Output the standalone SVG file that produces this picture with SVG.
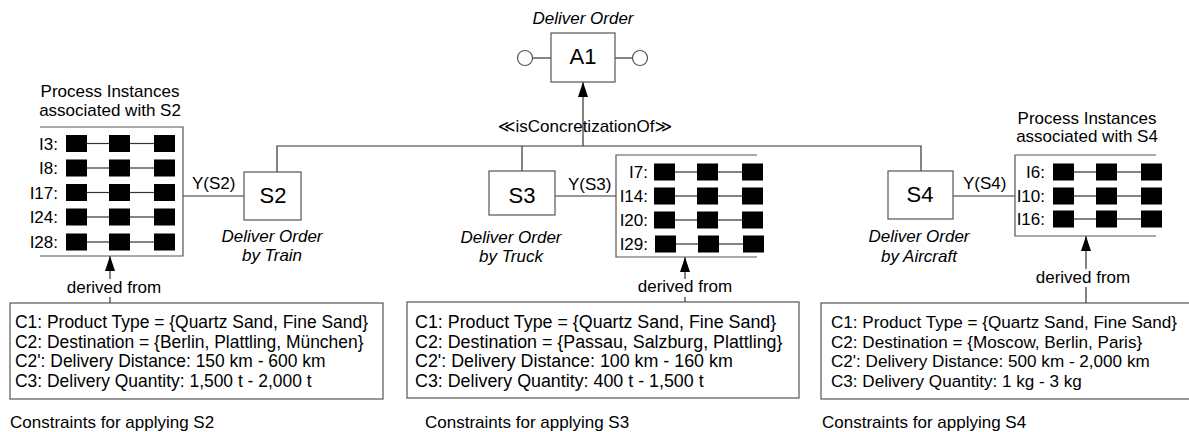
<svg xmlns="http://www.w3.org/2000/svg" xmlns:xlink="http://www.w3.org/1999/xlink" width="1189" height="432" viewBox="0 0 1189 432">
  <style>
    text { font-family: "Liberation Sans", Arial, "DejaVu Sans", sans-serif; font-size: 17px; fill: #000; }
    .node { fill: #fff; stroke: #555; stroke-width: 1.2; }
    .label { font-size: 22px; text-anchor: middle; }
    .title { text-anchor: middle; }
    .ital { font-style: italic; text-anchor: middle; }
    .frame { fill: none; stroke: #555; stroke-width: 1.2; }
    .conn { fill: none; stroke: #333; stroke-width: 1.2; }
    .step { fill: #000; }
    .link { stroke: #333; stroke-width: 1.2; }
    .iname { text-anchor: end; }
    .mask { fill: #fff; }
    #constraints-s2 .cond { font-size: 17.45px; }
    #constraints-s3 .cond { font-size: 17.85px; }
    #constraints-s4 .cond { font-size: 17.1px; }
  </style>
  <defs>
    <marker id="arrow" markerUnits="userSpaceOnUse" markerWidth="15" markerHeight="10" refX="15" refY="5" orient="auto">
      <path d="M0,0 L15,5 L0,10 z" fill="#000"/>
    </marker>
    <!-- one executed process trace: three activities chained by links -->
    <g id="trace">
      <line class="link" x1="21" y1="0" x2="43" y2="0"/>
      <line class="link" x1="64" y1="0" x2="88" y2="0"/>
      <rect class="step" x="0" y="-8.5" width="21" height="17"/>
      <rect class="step" x="43" y="-8.5" width="21" height="17"/>
      <rect class="step" x="88" y="-8.5" width="21" height="17"/>
    </g>
  </defs>

  <rect width="1189" height="432" fill="#fff"/>

  <!-- connectors -->
  <g id="connectors">
    <polyline class="conn" points="277,172 277,146 921,146 921,171"/>
    <line class="conn" x1="522" y1="146" x2="522" y2="171"/>
    <line class="conn" x1="583" y1="146" x2="583" y2="82" marker-end="url(#arrow)"/>
    <text x="585" y="132" class="title">≪isConcretizationOf≫</text>

    <line class="conn" x1="183" y1="196" x2="244" y2="196"/>
    <text x="192" y="189">Y(S2)</text>
    <line class="conn" x1="555" y1="196" x2="616" y2="196"/>
    <text x="568" y="190">Y(S3)</text>
    <line class="conn" x1="953" y1="196" x2="1015" y2="196"/>
    <text x="963" y="189">Y(S4)</text>

    <line class="conn" x1="110" y1="303" x2="110" y2="256" marker-end="url(#arrow)"/>
    <rect class="mask" x="66" y="279" width="96" height="18"/>
    <text x="114" y="293" class="title">derived from</text>

    <line class="conn" x1="685" y1="302" x2="685" y2="257" marker-end="url(#arrow)"/>
    <rect class="mask" x="636" y="279" width="98" height="18"/>
    <text x="685" y="292" class="title">derived from</text>

    <line class="conn" x1="1086" y1="303" x2="1086" y2="236" marker-end="url(#arrow)"/>
    <rect class="mask" x="1035" y="269" width="98" height="18"/>
    <text x="1083" y="283" class="title">derived from</text>
  </g>

  <!-- abstract activity A1 with its interface ports -->
  <g id="a1">
    <text x="583" y="24" class="ital">Deliver Order</text>
    <line class="conn" x1="532.5" y1="58" x2="551" y2="58"/>
    <line class="conn" x1="615" y1="58" x2="632.5" y2="58"/>
    <circle class="node" cx="525" cy="58" r="7.5"/>
    <circle class="node" cx="640" cy="58" r="7.5"/>
    <rect class="node" x="551" y="33" width="64" height="49"/>
    <text x="583" y="64" class="label">A1</text>
  </g>

  <!-- concrete variants -->
  <g id="s2">
    <rect class="node" x="244" y="172" width="57" height="48"/>
    <text x="273" y="203" class="label">S2</text>
    <text x="272" y="242" class="ital">Deliver Order</text>
    <text x="272" y="261" class="ital">by Train</text>
  </g>
  <g id="s3">
    <rect class="node" x="489" y="171" width="66" height="44"/>
    <text x="522" y="203" class="label">S3</text>
    <text x="511" y="243" class="ital">Deliver Order</text>
    <text x="511" y="262" class="ital">by Truck</text>
  </g>
  <g id="s4">
    <rect class="node" x="888" y="171" width="65" height="48"/>
    <text x="920" y="202" class="label">S4</text>
    <text x="919" y="242" class="ital">Deliver Order</text>
    <text x="919" y="262" class="ital">by Aircraft</text>
  </g>

  <!-- process instances per variant -->
  <g id="instances-s2">
    <text x="110" y="97" class="title">Process Instances</text>
    <text x="110" y="116" class="title">associated with S2</text>
    <polyline class="frame" points="40,127 183,127 183,256 40,256"/>
    <text x="58" y="150" class="iname">I3:</text>
    <use xlink:href="#trace" x="66" y="143.5"/>
    <text x="58" y="174" class="iname">I8:</text>
    <use xlink:href="#trace" x="66" y="168"/>
    <text x="58" y="199" class="iname">I17:</text>
    <use xlink:href="#trace" x="66" y="192.5"/>
    <text x="58" y="223" class="iname">I24:</text>
    <use xlink:href="#trace" x="66" y="217"/>
    <text x="58" y="248" class="iname">I28:</text>
    <use xlink:href="#trace" x="66" y="242"/>
  </g>
  <g id="instances-s3">
    <polyline class="frame" points="757,155 616,155 616,257 757,257"/>
    <text x="648" y="178" class="iname">I7:</text>
    <use xlink:href="#trace" x="654" y="172"/>
    <text x="648" y="202" class="iname">I14:</text>
    <use xlink:href="#trace" x="654" y="196"/>
    <text x="648" y="226" class="iname">I20:</text>
    <use xlink:href="#trace" x="654" y="220"/>
    <text x="648" y="250" class="iname">I29:</text>
    <use xlink:href="#trace" x="655" y="244"/>
  </g>
  <g id="instances-s4">
    <text x="1087" y="124" class="title">Process Instances</text>
    <text x="1087" y="142" class="title">associated with S4</text>
    <polyline class="frame" points="1156,155 1015,155 1015,236 1156,236"/>
    <text x="1045" y="178" class="iname">I6:</text>
    <use xlink:href="#trace" x="1053" y="172"/>
    <text x="1045" y="202" class="iname">I10:</text>
    <use xlink:href="#trace" x="1053" y="196"/>
    <text x="1045" y="225" class="iname">I16:</text>
    <use xlink:href="#trace" x="1053" y="219"/>
  </g>

  <!-- applicability constraints per variant -->
  <g id="constraints-s2">
    <rect class="frame" x="10" y="303" width="373" height="96"/>
    <text class="cond" x="15" y="328">C1: Product Type = {Quartz Sand, Fine Sand}</text>
    <text class="cond" x="15" y="347.5">C2: Destination = {Berlin, Plattling, München}</text>
    <text class="cond" x="15" y="367">C2': Delivery Distance: 150 km - 600 km</text>
    <text class="cond" x="15" y="386.5">C3: Delivery Quantity: 1,500 t - 2,000 t</text>
    <text x="10" y="428">Constraints for applying S2</text>
  </g>
  <g id="constraints-s3">
    <rect class="frame" x="407" y="302" width="392" height="96"/>
    <text class="cond" x="415" y="328">C1: Product Type = {Quartz Sand, Fine Sand}</text>
    <text class="cond" x="415" y="347.5">C2: Destination = {Passau, Salzburg, Plattling}</text>
    <text class="cond" x="415" y="367">C2': Delivery Distance: 100 km - 160 km</text>
    <text class="cond" x="415" y="386.5">C3: Delivery Quantity: 400 t - 1,500 t</text>
    <text x="425" y="428">Constraints for applying S3</text>
  </g>
  <g id="constraints-s4">
    <rect class="frame" x="821" y="303" width="380" height="96"/>
    <text class="cond" x="831" y="328">C1: Product Type = {Quartz Sand, Fine Sand}</text>
    <text class="cond" x="831" y="347.5">C2: Destination = {Moscow, Berlin, Paris}</text>
    <text class="cond" x="831" y="367">C2': Delivery Distance: 500 km - 2,000 km</text>
    <text class="cond" x="831" y="386.5">C3: Delivery Quantity: 1 kg - 3 kg</text>
    <text x="822" y="428">Constraints for applying S4</text>
  </g>
</svg>
